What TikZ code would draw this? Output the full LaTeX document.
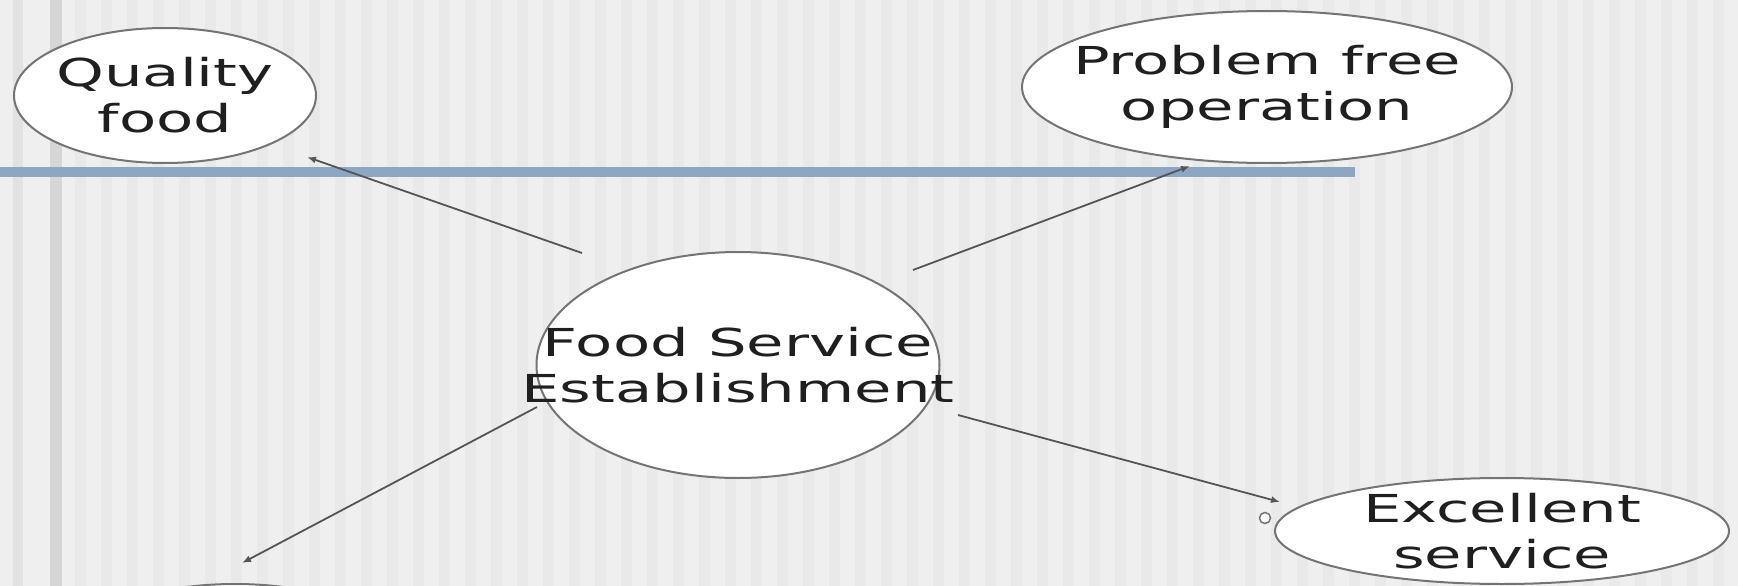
\documentclass[tikz,border=0pt]{standalone}
\usepackage{fontspec}
\setmainfont{DejaVu Sans}[FakeStretch=1.58]
\usetikzlibrary{shapes.geometric,arrows.meta}
\definecolor{bg}{HTML}{EFEFEF}
\definecolor{stripe}{HTML}{E9E9E9}
\definecolor{bandA}{HTML}{E2E2E2}
\definecolor{bandB}{HTML}{D6D6D6}
\definecolor{rule}{HTML}{8DA6C4}
\definecolor{edge}{HTML}{747474}
\definecolor{conncol}{HTML}{555555}
\tikzset{
  ell/.style={ellipse, draw=edge, fill=white, line width=2pt, inner sep=0pt},
  lbl/.style={align=center, inner sep=0pt, font=\fontsize{38.5}{46}\selectfont, text=black!88},
  conn/.style={draw=conncol, line width=1.8pt, -{Latex[length=9pt,width=7pt]}},
}
\begin{document}
\begin{tikzpicture}[x=1pt,y=-1pt]
\useasboundingbox (0,0) rectangle (1738,586);
\clip (0,0) rectangle (1738,586);
% background
\fill[bg] (0,0) rectangle (1738,586);
\foreach \i in {0,...,64}{
  \fill[stripe] ({75+\i*26},0) rectangle ({86+\i*26},586);
}
\fill[bandA] (13,0) rectangle (23,586);
\fill[bandB] (50,0) rectangle (62,586);
% blue rule
\fill[rule] (0,167) rectangle (1355,177);
% nodes
\node[ell, minimum width=302, minimum height=135,
      label={[lbl]center:{Quality\\food}}] (qf) at (165,95.5) {};
\node[ell, minimum width=490, minimum height=152,
      label={[lbl]center:{Problem free\\operation}}] (pf) at (1267,87) {};
\node[ell, minimum width=403, minimum height=226,
      label={[lbl]center:{Food Service\\Establishment}}] (fse) at (738,365) {};
\node[ell, minimum width=454, minimum height=106,
      label={[lbl]center:{Excellent\\service}}] (es) at (1502,531) {};
\node[ell, minimum width=300, minimum height=112] (bl) at (235,640) {};
% connector ends
\coordinate (q1) at (582,253);  \coordinate (q2) at (307,157);
\coordinate (p1) at (913,270);  \coordinate (p2) at (1190,166);
\coordinate (e1) at (958,415);  \coordinate (e2) at (1280,502);
\coordinate (b1) at (537,407);  \coordinate (b2) at (242,563);
\draw[conn] (q1) -- (q2);
\draw[conn] (p1) -- (p2);
\draw[conn] (e1) -- (e2);
\draw[conn] (b1) -- (b2);
\node[circle, draw=edge, fill=white, line width=1.5pt, inner sep=0pt, minimum size=11pt] (ec) at (1265,518) {};
\end{tikzpicture}
\end{document}
